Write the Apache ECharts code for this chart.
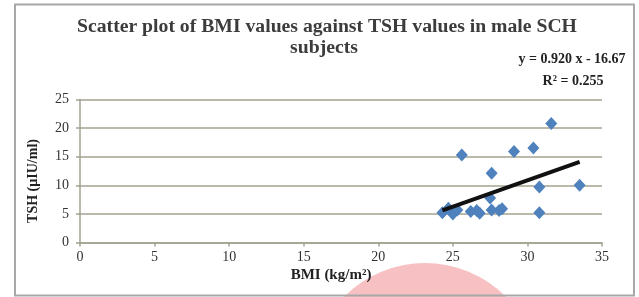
<!DOCTYPE html>
<html>
<head>
<meta charset="utf-8">
<script src="https://cdn.jsdelivr.net/npm/echarts@6/dist/echarts.min.js"></script>
<style>
  html, body { margin: 0; padding: 0; background: #ffffff; }
  #chart { width: 639px; height: 297px; }
</style>
</head>
<body>
<div id="chart"></div>
<script>
  // BMI (kg/m2) and TSH (uIU/ml) of each subject
  var bmiValues = [24.3, 24.7, 25.0, 25.3, 25.6, 26.2, 26.6, 26.8, 27.5, 27.6, 27.6, 28.1, 28.3, 29.1, 30.4, 30.8, 30.8, 31.6, 33.5];
  var tshValues = [5.2, 6.0, 5.0, 5.7, 15.3, 5.4, 5.6, 5.1, 7.8, 12.1, 5.7, 5.6, 5.9, 15.9, 16.5, 9.7, 5.2, 20.8, 10.0];
  // ends of the drawn linear trend line
  var trendBmi = [24.3, 33.5];
  var trendTsh = [5.6, 14.1];
  var titleLines = ['Scatter plot of BMI values against TSH values in male SCH', 'subjects'];
  var equationLines = ['y = 0.920 x - 16.67', 'R\u00b2 = 0.255'];

  var myChart = echarts.init(document.getElementById('chart'), null, { renderer: 'canvas' });

  var points = bmiValues.map(function (b, i) { return [b, tshValues[i]]; });
  var trend = trendBmi.map(function (b, i) { return [b, trendTsh[i]]; });

  var serif = 'Liberation Serif, Times New Roman, serif';
  var axisColor = '#a3a290';

  var option = {
    animation: false,
    grid: { left: 80, right: 37, top: 99.5, bottom: 54.5 },
    graphic: [
      { // pink mark at the bottom of the picture
        type: 'circle', z: -10,
        shape: { cx: 425, cy: 377, r: 114 },
        style: { fill: '#f7c1c3' }
      },
      { // frame
        type: 'rect', z: 10,
        shape: { x: 15, y: 4.5, width: 619, height: 291 },
        style: { fill: 'none', stroke: '#a8a8a8', lineWidth: 2 }
      },
      {
        type: 'text', x: 327, y: 27,
        style: { text: titleLines[0], font: 'bold 19.7px ' + serif, fill: '#3c3c3c', textAlign: 'center', textVerticalAlign: 'middle' }
      },
      {
        type: 'text', x: 324, y: 48,
        style: { text: titleLines[1], font: 'bold 19.7px ' + serif, fill: '#3c3c3c', textAlign: 'center', textVerticalAlign: 'middle' }
      },
      {
        type: 'text', x: 572, y: 59,
        style: { text: equationLines[0], font: 'bold 14px ' + serif, fill: '#222', textAlign: 'center', textVerticalAlign: 'middle' }
      },
      {
        type: 'text', x: 573, y: 81,
        style: { text: equationLines[1], font: 'bold 14px ' + serif, fill: '#222', textAlign: 'center', textVerticalAlign: 'middle' }
      },
      {
        type: 'text', x: 331, y: 275,
        style: { text: 'BMI (kg/m\u00b2)', font: 'bold 15px ' + serif, fill: '#222', textAlign: 'center', textVerticalAlign: 'middle' }
      },
      {
        type: 'text', x: 33, y: 181, rotation: Math.PI / 2,
        style: { text: 'TSH (\u00b5IU/ml)', font: 'bold 14px ' + serif, fill: '#222', textAlign: 'center', textVerticalAlign: 'middle' }
      }
    ],
    xAxis: {
      type: 'value',
      min: 0, max: 35, interval: 5,
      axisLine: { show: true, onZero: false, lineStyle: { color: axisColor, width: 1.5 } },
      axisTick: { show: true, inside: false, length: 4, lineStyle: { color: axisColor, width: 1.5 } },
      axisLabel: { color: '#333', fontFamily: serif, fontSize: 14, margin: 8 },
      splitLine: { show: false }
    },
    yAxis: {
      type: 'value',
      min: 0, max: 25, interval: 5,
      axisLine: { show: true, onZero: false, lineStyle: { color: axisColor, width: 1.5 } },
      axisTick: { show: true, inside: false, length: 4, lineStyle: { color: axisColor, width: 1.5 } },
      axisLabel: { color: '#333', fontFamily: serif, fontSize: 14, margin: 11 },
      splitLine: { show: true, lineStyle: { color: axisColor, width: 1.5 } }
    },
    series: [
      {
        type: 'scatter',
        data: points,
        symbol: 'diamond',
        symbolSize: [12, 13],
        itemStyle: { color: '#4f81bd', opacity: 1 },
        z: 2
      },
      {
        type: 'line',
        data: trend,
        symbol: 'none',
        lineStyle: { color: '#111', width: 4 },
        z: 3
      }
    ]
  };

  myChart.setOption(option, true);
</script>
</body>
</html>
